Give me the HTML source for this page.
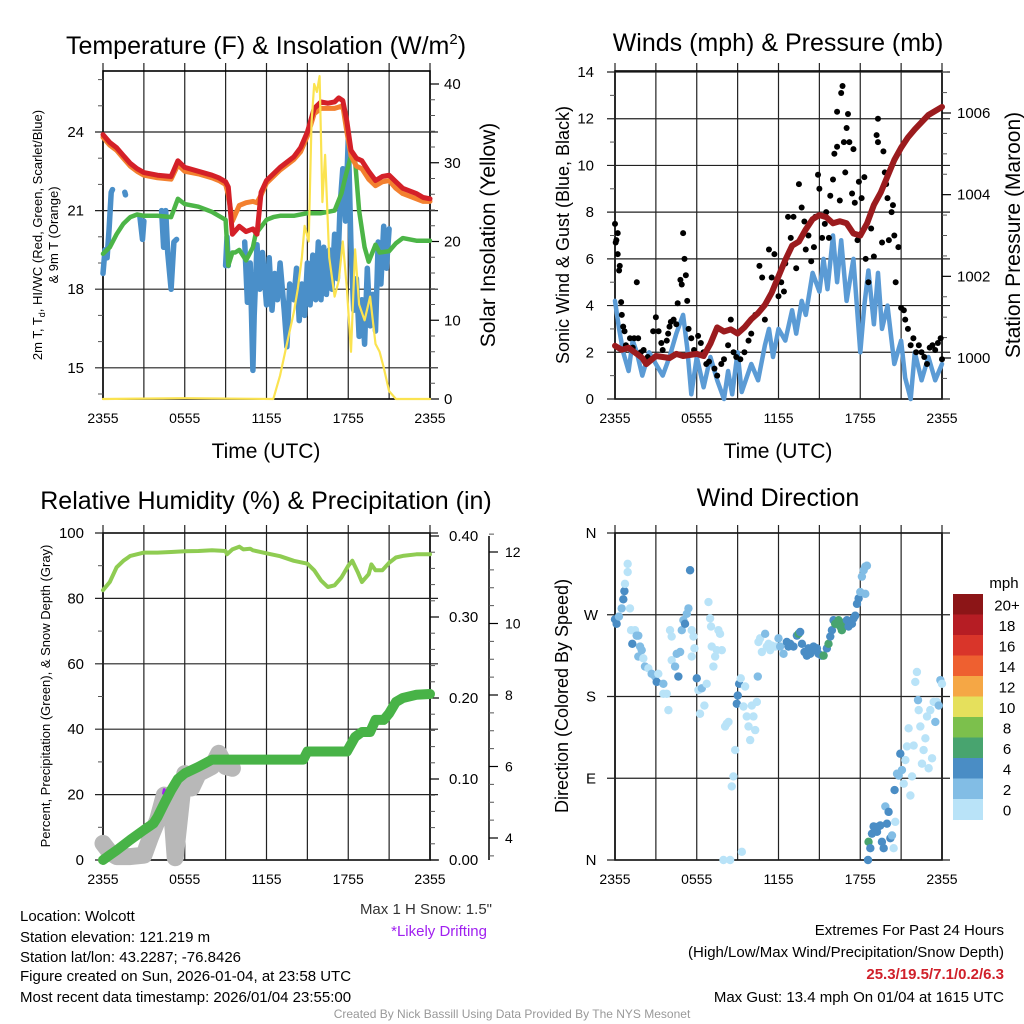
<!DOCTYPE html>
<html><head><meta charset="utf-8">
<style>
body{margin:0;background:#fff;}
svg{display:block;font-family:"Liberation Sans",sans-serif;}
</style></head>
<body>
<svg id="s" width="1024" height="1024" viewBox="0 0 1024 1024">
<rect width="1024" height="1024" fill="#fff"/>
<g id="g1"></g><g id="g2"></g><g id="g3"></g><g id="g4"></g>
<g font-size="25" text-anchor="middle" fill="#000">
<text x="266" y="54">Temperature (F) &amp; Insolation (W/m<tspan font-size="15" dy="-10">2</tspan><tspan dy="10">)</tspan></text>
<text x="778" y="51">Winds (mph) &amp; Pressure (mb)</text>
<text x="266" y="509">Relative Humidity (%) &amp; Precipitation (in)</text>
<text x="778" y="506">Wind Direction</text>
</g>
<g font-size="21" text-anchor="middle">
<text x="266" y="458">Time (UTC)</text>
<text x="778" y="458">Time (UTC)</text>
<text transform="translate(495,235) rotate(-90)">Solar Insolation (Yellow)</text>
<text transform="translate(1020,235) rotate(-90)">Station Pressure (Maroon)</text>
</g>
<g font-size="18" text-anchor="middle">
<text transform="translate(569,235) rotate(-90)">Sonic Wind &amp; Gust (Blue, Black)</text>
<text transform="translate(568,696) rotate(-90)">Direction (Colored By Speed)</text>
</g>
<g font-size="13" text-anchor="middle">
<text transform="translate(42,235) rotate(-90)">2m T, T<tspan font-size="9" dy="3">d</tspan><tspan dy="-3">, HI/WC (Red, Green, Scarlet/Blue)</tspan></text>
<text transform="translate(58,235) rotate(-90)">&amp; 9m T (Orange)</text>
<text transform="translate(50,696) rotate(-90)">Percent, Precipitation (Green), &amp; Snow Depth (Gray)</text>
</g>
<g font-size="15">
<text x="20" y="921">Location: Wolcott</text>
<text x="20" y="942">Station elevation: 121.219 m</text>
<text x="20" y="962">Station lat/lon: 43.2287; -76.8426</text>
<text x="20" y="981">Figure created on Sun, 2026-01-04, at 23:58 UTC</text>
<text x="20" y="1002">Most recent data timestamp: 2026/01/04 23:55:00</text>
<text x="492" y="914" text-anchor="end" fill="#333">Max 1 H Snow: 1.5"</text>
<text x="487" y="936" text-anchor="end" fill="#a020f0">*Likely Drifting</text>
<text x="1004" y="935" text-anchor="end">Extremes For Past 24 Hours</text>
<text x="1004" y="957" text-anchor="end">(High/Low/Max Wind/Precipitation/Snow Depth)</text>
<text x="1004" y="979" text-anchor="end" fill="#d0202a" font-weight="bold">25.3/19.5/7.1/0.2/6.3</text>
<text x="1004" y="1002" text-anchor="end">Max Gust: 13.4 mph On 01/04 at 1615 UTC</text>
</g>
<text x="512" y="1018" font-size="12" text-anchor="middle" fill="#999">Created By Nick Bassill Using Data Provided By The NYS Mesonet</text>
</svg>
<script>
// ---------- data ----------
const xTickLabels=["2355","0555","1155","1755","2355"];
const tempHours=[0,0.5,1,1.5,2,2.5,3,4,5,5.5,6,7,8,8.5,9,9.2,9.5,10,10.5,11,11.3,11.6,12,13,14,14.5,15,15.5,16,16.5,17,17.3,17.6,17.9,18.2,18.6,19,19.5,20,20.5,21,21.5,22,22.5,23,23.5,24];
const tempRed=[23.9,23.6,23.4,23.1,22.8,22.6,22.45,22.35,22.3,22.9,22.65,22.5,22.35,22.25,22.1,21.9,20.1,20.4,20.2,20.3,20.1,21.7,22.15,22.65,23.05,23.4,24.0,24.9,25.15,25.1,25.15,25.3,25.2,24.4,23.3,23.0,22.9,22.5,22.15,22.3,22.35,22.1,21.85,21.75,21.65,21.5,21.45];
const tempOrange=[23.8,23.5,23.3,23.0,22.7,22.5,22.35,22.25,22.2,22.75,22.5,22.4,22.25,22.15,22.0,21.6,20.6,21.2,21.3,21.35,21.3,21.6,22.05,22.55,22.95,23.25,23.85,24.7,24.9,24.9,24.9,24.95,25.0,24.0,23.1,22.7,22.6,22.2,21.95,22.1,22.15,21.85,21.65,21.55,21.45,21.35,21.35];
const dewHours=[0,0.5,1,1.5,2,2.5,3,4,5,5.5,6,7,8,9,9.2,9.5,9.7,10,10.5,11,11.2,12,12.5,13,14,15,16,17,17.5,17.8,18.2,18.5,18.8,19.2,19.5,20,20.3,21,21.5,22,23,24];
const dewValues=[19.35,19.6,20.1,20.5,20.75,20.85,20.8,20.8,20.75,21.45,21.25,21.15,20.95,20.65,18.9,19.4,19.4,19.5,19.1,19.6,20.1,20.65,20.75,20.8,20.8,20.9,20.9,21.0,21.65,22.3,23.1,22.9,21.0,19.6,19.05,19.7,19.4,19.45,19.75,19.95,19.85,19.85];
const chillHours=[0,0.15,0.3,0.45,0.6,0.7,0.71,1.6,1.65,1.66,2.7,2.9,3.0,3.01,4.3,4.45,4.6,4.75,5.0,5.2,5.4,5.41,9.0,9.1,9.2,9.21,10.4,10.6,10.8,11.0,11.1,11.3,11.5,11.7,12.0,12.2,12.4,12.6,12.8,13.0,13.3,13.5,13.7,14.0,14.2,14.4,14.6,14.8,15.0,15.2,15.4,15.6,15.8,16.0,16.2,16.4,16.6,16.8,17.0,17.2,17.4,17.6,17.8,18.0,18.2,18.4,18.6,18.8,19.0,19.2,19.4,19.6,19.8,20.0,20.2,20.4,20.6,20.8,21.0];
const chillValues=[18.6,19.5,19.2,20.3,21.7,21.8,null,21.7,21.6,null,20.8,19.9,20.6,null,21.0,19.6,21.0,19.4,18.0,19.8,19.9,null,18.9,20.0,18.9,null,19.8,17.5,19.0,14.9,17.0,19.7,18.0,19.4,17.4,19.2,17.2,18.6,17.6,19.0,17.2,15.8,18.2,17.6,18.8,16.8,18.2,17.0,19.0,17.4,19.3,17.6,19.8,17.6,19.6,17.8,19.5,18.0,20.1,18.4,21.2,22.6,20.6,23.8,19.6,17.2,18.4,16.2,17.6,15.9,18.8,16.6,17.8,16.4,19.8,18.2,20.4,18.8,20.3];
const solarHours=[0,6,12.5,13,13.5,14,14.3,14.6,14.8,15.1,15.3,15.5,15.7,15.9,16.1,16.3,16.6,17,17.3,17.6,17.9,18.2,18.5,18.8,19.2,19.6,20,20.3,20.6,21,21.5,24];
const solarValues=[0,0.1,0,3,7,11,14,18,22,20,35,40,39,41,25,31,18,13,15,20,14,6,19,12,10,13,7,6,4,1,0,0];
const windHours=[0,0.3,0.6,1,1.3,1.6,2,2.5,3,3.5,4,4.5,5,5.3,5.6,6,6.5,7,7.5,8,8.3,8.6,9,9.3,10,10.5,11,11.3,11.6,12,12.5,13,13.3,13.7,14,14.5,15,15.3,15.6,16,16.3,16.6,17,17.5,18,18.3,18.6,19,19.3,19.6,20,20.5,21,21.3,21.7,22,22.5,23,23.5,24];
const windValues=[4.2,3.0,2.0,1.2,2.5,2.0,1.0,2.0,1.5,1.0,1.8,2.8,3.6,2.2,0.2,1.8,0.5,1.8,0.8,0,1.2,0.2,2.0,0.3,1.5,0.8,2.3,3.0,1.8,3.0,2.5,3.8,2.8,4.2,3.6,5.4,4.6,6.0,4.7,7.0,5.0,6.8,4.2,6.0,2.0,4.0,5.5,3.2,5.4,3.0,4.0,1.5,2.5,0.9,0,2.0,0.8,1.8,0.8,1.5];
const gustHours=[0,0.05,0.1,0.2,0.2,0.3,0.35,0.45,0.5,0.6,0.7,0.8,1.1,1.6,1.3,1.4,1.7,1.9,2.1,2.4,2.8,3.0,3.2,3.4,3.5,3.8,3.9,4.0,4.1,4.3,4.5,4.6,4.8,4.9,5.0,5.1,5.2,5.3,5.4,5.6,5.8,6.1,6.3,6.5,6.7,6.9,7.3,7.5,7.8,8.0,8.3,8.5,8.7,8.9,9.2,9.5,9.8,10.0,10.3,10.6,10.8,11.0,11.3,11.5,11.7,11.9,12.0,12.2,12.4,12.5,12.7,12.9,13.1,13.3,13.5,13.7,13.9,14.0,14.2,14.4,14.6,14.7,14.9,15.0,15.2,15.4,15.5,15.7,15.8,16.0,16.1,16.3,16.3,16.5,16.6,16.7,16.8,16.9,17.0,17.1,17.2,17.4,17.5,17.6,17.8,17.9,18.1,18.3,18.4,18.6,18.8,19.0,19.2,19.3,19.3,19.6,19.7,19.8,19.9,20.0,20.1,20.3,20.4,20.5,20.6,20.8,21.0,21.2,21.3,21.5,21.7,21.9,22.1,22.3,22.5,22.7,22.9,23.1,23.3,23.5,23.7,23.9,24.0];
const gustValues=[7.5,6.7,6.8,7.1,6.2,5.5,5.7,4.15,3.6,3.1,2.9,2.3,2.6,5.0,2.2,2.6,2.6,2.0,2.1,1.8,2.9,3.5,2.9,2.4,2.1,2.5,2.8,3.1,3.3,3.4,3.2,4.1,5.1,4.9,7.1,6.0,5.3,4.2,3.0,2.6,2.1,2.7,2.4,2.0,1.5,1.6,1.3,1.0,1.5,1.7,2.3,3.4,2.0,1.8,1.7,2.0,2.5,2.8,3.6,5.7,5.2,3.4,6.4,5.2,6.2,5.0,4.4,5.0,4.6,5.8,7.8,6.9,7.8,5.6,9.2,8.2,7.6,6.4,7.0,5.9,6.5,7.8,9.6,9.0,6.9,7.5,8.0,6.9,8.7,9.4,10.5,12.3,10.8,8.5,13.1,13.4,11.0,9.7,11.6,12.2,11.0,8.8,10.7,8.4,6.8,9.3,8.6,9.5,6.0,5.0,7.3,6.1,11.3,12.0,11.0,6.7,10.6,9.7,9.2,8.6,6.8,8.0,8.3,7.0,5.0,6.5,3.9,3.8,3.4,3.0,2.3,2.6,2.0,2.3,2.0,1.8,1.5,2.2,2.3,2.1,2.4,2.6,1.7];
const presHours=[0,0.5,1,2,2.3,3,4,4.5,5,6,6.5,7,7.5,8,8.5,9,9.5,10,10.5,11,11.5,12,12.5,13,13.5,14,14.5,15,15.5,16,16.5,17,17.5,18,18.5,19,19.5,20,20.5,21,21.5,22,23,24];
const presValues=[1000.3,1000.2,1000.25,1000.0,999.85,1000.05,1000.0,1000.1,1000.05,1000.1,1000.05,1000.35,1000.75,1000.65,1000.7,1000.6,1000.75,1000.95,1001.1,1001.3,1001.6,1002.0,1002.4,1002.75,1002.85,1003.15,1003.4,1003.5,1003.45,1003.3,1003.35,1003.3,1003.05,1003.0,1003.3,1003.75,1004.05,1004.45,1004.85,1005.15,1005.4,1005.6,1005.95,1006.15];
const rhHours=[0,0.5,1,1.5,2,3,4,5,6,7,8,9,9.1,9.5,10,10.3,10.8,11,12,13,14,15,15.5,16,16.5,17,17.5,18,18.3,18.7,19,19.5,19.7,20,20.5,21,21.5,22,23,24];
const rhValues=[82.5,85,89.5,91.5,93,94,94,94.2,94.4,94.5,94.7,94.5,93.5,95,95.8,95,95.2,94.7,93.8,92.9,91.5,90.6,88.6,85.5,83.5,84,86.4,90,91.5,88,85,87.4,90.4,88.6,88.6,90.9,92.5,93,93.5,93.5];
const precipHours=[0,0.5,1,2,3,3.7,4,4.5,5,5.5,6,7,8,9,14.7,15,17.9,18.5,19,19.6,20,20.6,21,21.5,22,23,24];
const precipValues=[0,0.006,0.012,0.025,0.037,0.045,0.053,0.07,0.086,0.1,0.107,0.115,0.124,0.124,0.124,0.134,0.134,0.152,0.158,0.158,0.173,0.173,0.181,0.195,0.2,0.204,0.205];
const snowHours=[0,0.5,1,2,3,3.5,4,4.5,5,5.3,5.6,5.8,6,6.5,7,8,8.5,9,9.5];
const snowValues=[3.85,3.6,3.48,3.48,3.52,4.04,4.5,5.2,5.0,3.45,4.5,5.2,5.8,5.4,5.8,6.0,6.37,6.0,5.95];
const driftHours=[4.45,4.5];
const driftValues=[5.25,5.35];
const dirHours=[0,0.12,0.29,0.49,0.61,0.69,0.73,0.93,0.93,1.1,1.18,1.27,1.47,1.59,1.71,1.84,1.96,1.71,2.08,2.2,2.45,2.69,2.94,3.06,3.18,3.55,3.55,3.8,3.92,4.04,4.16,4.16,4.41,4.53,4.65,4.78,4.9,5.02,5.14,5.27,5.39,5.51,5.63,5.63,5.76,5.83,6.0,6.12,6.24,6.37,6.56,6.73,6.86,6.98,7.05,7.1,7.22,7.35,7.47,7.59,7.71,7.84,8.08,8.2,8.33,8.57,8.69,8.82,8.94,9.01,9.11,9.23,9.31,9.43,9.55,9.67,9.8,9.92,10.04,10.16,10.29,10.41,10.48,10.53,10.65,10.78,11.02,11.14,11.27,11.39,11.51,11.76,12.0,12.12,12.37,12.61,12.73,12.86,13.1,13.35,13.47,13.59,13.72,13.91,14.08,14.2,14.33,14.57,14.69,14.82,14.94,15.18,15.31,15.55,15.67,15.8,15.92,16.04,16.16,16.29,16.41,16.53,16.65,16.78,16.9,17.02,17.14,17.39,17.51,17.63,17.76,17.88,18.0,18.12,18.25,18.37,18.49,18.37,18.61,18.74,18.57,18.86,18.98,19.1,19.23,19.35,19.47,19.59,19.72,19.84,19.96,20.08,20.21,20.33,20.45,20.52,20.57,20.7,20.82,20.94,21.06,21.19,21.31,21.43,21.55,21.68,21.8,21.92,22.04,22.16,22.24,22.29,22.41,22.53,22.65,22.78,22.9,23.02,23.14,23.27,23.39,23.51,23.63,23.76,23.88,24.0,7.96,8.45];
const dirValues=[265,260,268,277,287,296,304,317,326,277,253,238,253,247,247,235,231,224,222,213,211,205,202,196,205,194,183,183,165,253,246,220,213,227,202,229,253,264,260,271,277,319,253,224,246,233,200,187,161,189,170,194,284,266,257,235,213,224,231,253,249,231,147,150,152,81,92,121,172,181,194,200,9,169,191,158,147,132,170,158,143,174,202,240,244,229,249,235,238,231,236,235,244,235,227,240,235,238,235,247,249,251,238,229,225,233,227,235,231,233,227,225,225,233,238,246,253,264,260,260,264,257,253,260,262,264,257,260,266,269,282,288,295,312,319,323,324,293,20,13,0,29,37,33,31,37,38,20,13,59,40,53,24,27,13,77,42,95,93,117,99,84,110,125,145,71,92,126,196,207,176,165,147,106,121,134,158,101,165,112,174,152,174,170,198,194,0,0];
const dirSpeeds=[5,5,3,3,5,5,1,1,1,1,1,5,1,3,3,3,3,3,1,3,1,3,3,5,1,3,1,1,1,1,1,1,3,3,5,3,3,3,5,3,3,5,1,1,1,1,5,1,1,3,1,1,1,1,1,1,1,1,1,1,1,1,1,1,1,1,1,1,5,5,5,1,1,1,1,1,1,1,1,1,1,1,3,1,1,1,3,1,1,1,1,1,3,3,3,5,5,5,5,5,7,5,5,5,5,5,5,5,5,5,5,5,7,5,7,5,5,5,7,7,7,7,7,7,7,5,5,5,5,5,5,5,3,3,3,3,3,3,7,5,5,5,5,5,5,5,5,5,5,3,5,5,5,3,1,5,1,3,3,5,3,1,1,1,1,1,1,1,1,1,3,1,1,1,1,1,1,1,1,1,1,3,1,3,3,1,1,1,1];
const speedBins=["0","2","4","6","8","10","12","14","16","18","20+"];
const speedColors=["#b9e3f8","#82bde5","#4a8dc5","#48a46f","#7cc04c","#e5e05c","#f5a745","#ee6030","#d9352a","#b61d24","#8c1517"];
const tempTicks=[15,18,21,24], solarTicks=[0,10,20,30,40], windTicks=[0,2,4,6,8,10,12,14], presTicks=[1000,1002,1004,1006];
const pctTicks=[0,20,40,60,80,100], precipTicks=["0.00","0.10","0.20","0.30","0.40"], snowTicks=[4,6,8,10,12], dirTicks=["N","E","S","W","N"];

// ---------- helpers ----------
const NS="http://www.w3.org/2000/svg";
function el(p,t,a){const e=document.createElementNS(NS,t);for(const k in a)e.setAttribute(k,a[k]);p.appendChild(e);return e;}
function lin(d0,d1,r0,r1){return v=>r0+(v-d0)/(d1-d0)*(r1-r0);}
function pathOf(hs,vs,sx,sy){let d="",pen=false;for(let i=0;i<hs.length;i++){if(vs[i]==null){pen=false;continue;}d+=(pen?"L":"M")+sx(hs[i]).toFixed(1)+","+sy(vs[i]).toFixed(1);pen=true;}return d;}
function frame(g,x0,x1,y0,y1,sx,name){
  for(let h=0;h<=24;h+=3){const l=el(g,"line",{x1:sx(h),x2:sx(h),y1:y0-8,y2:y1,stroke:"#222","stroke-width":1.2});
  
  }
  xTickLabels.forEach((t,i)=>{const tx=el(g,"text",{x:sx(i*6),y:y1+24,"font-size":14,"text-anchor":"middle"});tx.textContent=t;
  
  });
  const b=el(g,"rect",{x:x0,y:y0,width:x1-x0,height:y1-y0,fill:"none",stroke:"#000","stroke-width":1.6});
  
  
}
function hgrid(g,x0,x1,ys){ys.forEach(y=>{const l=el(g,"line",{x1:x0-8,x2:x1+8,y1:y,y2:y,stroke:"#222","stroke-width":1.2});
  
  });}
function minor(g,x,ys,dir){ys.forEach(y=>{el(g,"line",{x1:x,x2:x+dir*5,y1:y,y2:y,stroke:"#555","stroke-width":1});});}
function labels(g,x,anchor,vals,ys,size,name){vals.forEach((v,i)=>{const t=el(g,"text",{x:x,y:ys[i]+5,"font-size":size||14,"text-anchor":anchor});t.textContent=v;
  
  });}
function series(g,d,color,w,name){const p=el(g,"path",{d:d,fill:"none",stroke:color,"stroke-width":w,"stroke-linejoin":"round","stroke-linecap":"round"});
  
  return p;}

// ---------- panel 1 ----------
(function(){
const g=document.getElementById("g1");const X0=103,X1=430,Y0=71,Y1=399;
const sx=lin(0,24,X0,X1), sy=lin(24,21,132,210.6), sr=lin(0,40,399,84);
frame(g,X0,X1,Y0,Y1,sx,"temperature-panel");
hgrid(g,X0,X1,tempTicks.map(sy));
const mn=[];for(let v=14;v<=26;v++)if(!tempTicks.includes(v))mn.push(sy(v));minor(g,X0,mn,-1);
const mr=[];for(let v=2;v<=40;v+=2)if(v%10)mr.push(sr(v));minor(g,X1,mr,1);
solarTicks.forEach(v=>el(g,"line",{x1:X1,x2:X1+9,y1:sr(v),y2:sr(v),stroke:"#000","stroke-width":1.2}));
labels(g,84,"end",tempTicks,tempTicks.map(sy),15,"temp-tick-label");
labels(g,444,"start",solarTicks,solarTicks.map(sr),15,"solar-tick-label");
series(g,pathOf(chillHours,chillValues,sx,sy),"#4a8fc9",5.5,"windchill-line");
series(g,pathOf(dewHours,dewValues,sx,sy),"#4cb547",4.5,"dewpoint-line");
series(g,pathOf(tempHours,tempOrange,sx,sy),"#f3802f",5,"9m-temp-line");
series(g,pathOf(tempHours,tempRed,sx,sy),"#d42028",5,"2m-temp-line");
series(g,pathOf(solarHours,solarValues,sx,sr),"#fbe350",2.2,"insolation-line");
})();

// ---------- panel 2 ----------
(function(){
const g=document.getElementById("g2");const X0=615,X1=942,Y0=71,Y1=399;
const sx=lin(0,24,X0,X1), sy=lin(0,14,399,72), sp=lin(1000,1006,358,113);
frame(g,X0,X1,Y0,Y1,sx,"wind-panel");
hgrid(g,X0,X1,windTicks.map(sy));
const mn=[];for(let v=1;v<14;v+=2)mn.push(sy(v));minor(g,X0,mn,-1);
const mr=[];for(let v=999.5;v<=1007;v+=0.5)if(v%2)mr.push(sp(v));minor(g,X1,mr,1);
presTicks.forEach(v=>el(g,"line",{x1:X1,x2:X1+9,y1:sp(v),y2:sp(v),stroke:"#000","stroke-width":1.2}));
labels(g,594,"end",windTicks,windTicks.map(sy),15,"wind-tick-label");
labels(g,957,"start",presTicks,presTicks.map(sp),15,"pressure-tick-label");
series(g,pathOf(windHours,windValues,sx,sy),"#5b9bd5",4.5,"sonic-wind-line");
gustHours.forEach((h,i)=>{const c=el(g,"circle",{cx:sx(h),cy:sy(gustValues[i]),r:3,fill:"#000"});
  
  });
series(g,pathOf(presHours,presValues,sx,sp),"#9b1b1e",6,"pressure-line");
})();

// ---------- panel 3 ----------
(function(){
const g=document.getElementById("g3");const X0=103,X1=430,Y0=533,Y1=860;
const sx=lin(0,24,X0,X1), sy=lin(0,100,860,533), sr=lin(0,0.4,860,536), ss=lin(4,12,838,552);
frame(g,X0,X1,Y0,Y1,sx,"humidity-panel");
hgrid(g,X0,X1,pctTicks.map(sy));
minor(g,X0,[10,30,50,70,90].map(sy),-1);
const mr=[];for(let v=0.02;v<0.4;v+=0.02)mr.push(sr(v));minor(g,X1,mr,1);
precipTicks.forEach(v=>el(g,"line",{x1:X1,x2:X1+9,y1:sr(+v),y2:sr(+v),stroke:"#000","stroke-width":1.2}));
el(g,"line",{x1:489,x2:489,y1:536,y2:860,stroke:"#000","stroke-width":1.5});
snowTicks.forEach(v=>el(g,"line",{x1:489,x2:498,y1:ss(v),y2:ss(v),stroke:"#000","stroke-width":1.2}));
const ms=[];for(let v=3.5;v<=12.5;v+=0.5)if(v%2)ms.push(ss(v));minor(g,489,ms,1);
labels(g,84,"end",pctTicks,pctTicks.map(sy),15,"percent-tick-label");
labels(g,449,"start",precipTicks,precipTicks.map(v=>sr(+v)),15,"precip-tick-label");
labels(g,505,"start",snowTicks,snowTicks.map(ss),14,"snow-tick-label");
series(g,pathOf(snowHours,snowValues,sx,ss),"#b8b8b8",17,"snow-depth-line");
series(g,pathOf(driftHours,driftValues,sx,ss),"#a020f0",3,"drifting-mark");
series(g,pathOf(precipHours,precipValues,sx,sr),"#48b347",10,"precip-line");
series(g,pathOf(rhHours,rhValues,sx,sy),"#8fcc52",4,"rh-line");
})();

// ---------- panel 4 ----------
(function(){
const g=document.getElementById("g4");const X0=615,X1=942,Y0=533,Y1=860;
const sx=lin(0,24,X0,X1), sy=lin(0,360,860,533);
frame(g,X0,X1,Y0,Y1,sx,"direction-panel");
hgrid(g,X0,X1,[0,90,180,270,360].map(sy));
labels(g,591,"middle",dirTicks,[0,90,180,270,360].map(sy),15,"direction-tick-label");
dirHours.forEach((h,i)=>{const b=Math.min(10,Math.floor(dirSpeeds[i]/2));
  const c=el(g,"circle",{cx:sx(h),cy:sy(dirValues[i]),r:4.2,fill:speedColors[b]});
  
  });
const t=el(g,"text",{x:1004,y:588,"font-size":15,"text-anchor":"middle"});t.textContent="mph";


const top=594,bh=20.5;
speedBins.slice().reverse().forEach((lab,j)=>{const idx=10-j;
  const r=el(g,"rect",{x:953,y:top+j*bh,width:30,height:bh+0.5,fill:speedColors[idx]});
  
  
  const tx=el(g,"text",{x:1007,y:top+j*bh+bh/2+6,"font-size":15,"text-anchor":"middle"});tx.textContent=lab;
  
  });
})();
</script>
</body></html>
